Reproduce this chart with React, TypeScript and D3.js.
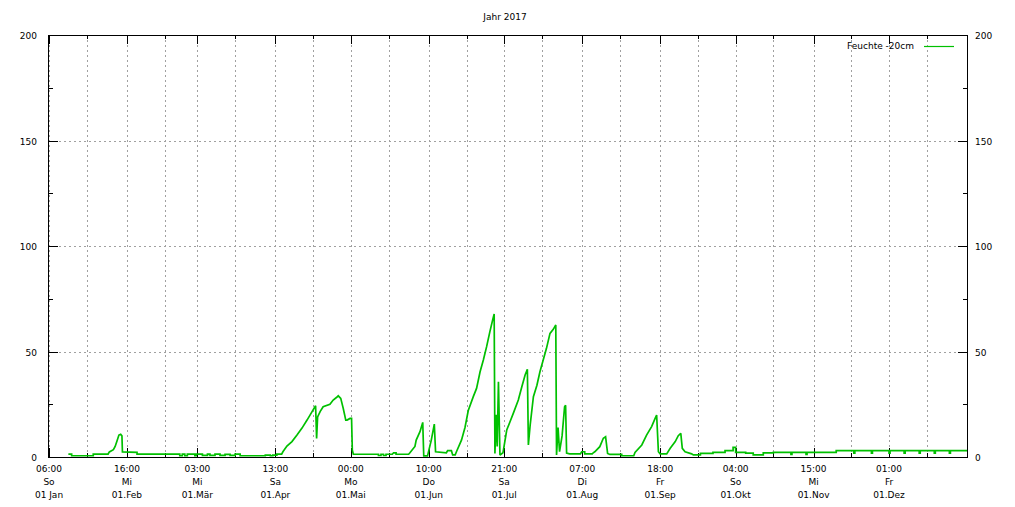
import React from "react";
import * as d3 from "d3";

const title = "Jahr 2017";
const seriesName = "Feuchte -20cm";
const yearStart = new Date(2017, 0, 1);
const yearEnd = new Date(2018, 0, 1);

// day of year (fractional) and soil moisture value
const dayOffsets = [
  7.7, 9, 9, 17.6, 17.6, 23.5, 24, 25.6, 26.3, 27, 27.8, 28.5, 29, 29.2, 35, 35,
  52, 52, 53, 53, 54, 54, 55, 55, 58, 58, 58.5, 58.5, 61, 61, 63, 63, 64, 64, 66, 66, 68, 68, 70, 70, 72, 72, 74, 74, 76, 76, 86, 86, 88, 88, 89, 89, 90.6, 90.6, 92.5,
  93, 94.6, 96.6, 98.6, 100.6, 102.6, 104.6, 106, 106.4, 106.8, 107.8, 109, 111.7, 113, 114.4, 115, 116, 117, 118, 118.5, 119.7, 120.3, 120.6, 121,
  131, 131, 132, 132, 133, 133, 134, 134, 136.5, 137, 138, 138, 143,
  143.5, 145.5, 146, 147.5, 148.6, 149, 150.5, 151, 152, 153.2, 153.7, 158, 158.5, 160, 160.5, 161.5, 162,
  164, 165.4, 166.7, 168.7, 170, 171.4, 172.7, 174, 175.3, 176.4, 177, 177.3, 177.8, 178.2, 178.7, 179.3, 180.5,
  182, 183.3, 184.6, 186.6, 188, 189.3, 190.2, 190.6, 191.3, 192.6, 194, 195.2, 196.5, 197.8, 199.2, 200.5, 201.5, 201.8,
  202.4, 203, 204, 205, 205.4, 205.8, 207, 211.3, 211.8, 213, 213, 216,
  216.4, 217, 219, 220.4, 221.3, 222.1, 223, 227.7, 227.7, 232.5,
  233, 235.7, 237.6, 239.6, 241, 241.6, 242.3, 243, 245.6,
  247, 249, 250.2, 251.2, 251.8, 252.9, 255.5, 256.2, 259, 259, 264, 264, 268.8, 268.8, 272, 272, 273, 273, 277, 277, 280, 280, 284, 284, 288, 288,
  295, 295, 295.4, 295.4, 301, 301, 301.4, 301.4, 313, 313, 320, 320, 320.4, 320.4, 327, 327, 327.4, 327.4,
  334, 334, 334.4, 334.4, 340, 340, 340.4, 340.4, 346, 346, 346.4, 346.4, 352, 352, 352.4, 352.4, 358, 358, 358.4, 358.4, 365
];
const moisture = [
  1.4, 1.4, 0.6, 0.6, 1.4, 1.4, 2.4, 3.5, 5, 7.5, 10.4, 10.8, 10, 2.4, 2.2, 1.4,
  1.4, 0.6, 0.6, 1.4, 1.4, 0.6, 0.6, 1.4, 1.4, 0.6, 0.6, 1.4, 1.4, 0.8, 0.8, 1.4, 1.4, 0.8, 0.8, 1.4, 1.4, 0.8, 0.8, 1.2, 1.2, 0.8, 0.8, 1.4, 1.4, 0.6, 0.6, 0.9, 0.9, 0.6, 0.6, 0.9, 0.9, 1.4, 1.4,
  2.5, 5.2, 7.3, 10.4, 13.7, 17.5, 21.5, 24.3, 8.8, 19, 21.5, 23.8, 25, 27, 28.3, 29, 27.8, 23, 17.5, 17.5, 18.3, 18.3, 3.3, 1.3,
  1.3, 0.7, 0.7, 1.3, 1.3, 0.7, 0.7, 1.3, 1.3, 2, 2, 1.3, 1.3,
  2, 5, 8, 12, 16.4, 0.5, 0.5, 3, 8, 15.6, 2.5, 2, 3, 3, 1, 1, 2.5,
  8, 14, 22, 28.6, 32.5, 40.4, 46, 52.3, 59.4, 65, 67.8, 1.7, 20, 5, 35.7, 0.9, 2,
  12.8, 16.7, 20.7, 27, 33.3, 38.9, 41.6, 5.7, 15, 28.6, 34, 40.4, 46, 51.5, 58.6, 60.5, 62.6, 1,
  14, 2.5, 10, 23.8, 24.5, 1.9, 1.5, 1.5, 2.5, 2.5, 1.5, 1.5,
  2, 2.5, 4.9, 8.9, 9.6, 1.7, 1.2, 1.2, 0.6, 0.6,
  2.2, 5.7, 10.4, 14.4, 18.3, 19.9, 2.5, 1.5, 1.5,
  4.1, 7.3, 10.1, 11.2, 4.1, 2.5, 1.5, 1, 1, 1.7, 1.7, 2.2, 2.2, 3, 3, 4.6, 4.6, 2.2, 2.2, 1.8, 1.8, 1, 1, 2, 2, 2.2,
  2.2, 1.2, 1.2, 2.2, 2.2, 1.2, 1.2, 2.2, 2.2, 3, 3, 1.8, 1.8, 3, 3, 1.8, 1.8, 3,
  3, 1.8, 1.8, 3, 3, 1.8, 1.8, 3, 3, 1.8, 1.8, 3, 3, 1.8, 1.8, 3, 3, 1.8, 1.8, 3, 3
];

const tickHours = ["06:00", "16:00", "03:00", "13:00", "00:00", "10:00", "21:00", "07:00", "18:00", "04:00", "15:00", "01:00"];
const tickWeekdays = ["So", "Mi", "Mi", "Sa", "Mo", "Do", "Sa", "Di", "Fr", "So", "Mi", "Fr"];
const tickDates = ["01 Jan", "01.Feb", "01.Mär", "01.Apr", "01.Mai", "01.Jun", "01.Jul", "01.Aug", "01.Sep", "01.Okt", "01.Nov", "01.Dez"];
const yTicks = [0, 50, 100, 150, 200];
const yMinorTicks = [25, 75, 125, 175];

const W = 1015;
const H = 507;
const left = 49;
const right = 967;
const top = 35;
const bottom = 457;
const font = "DejaVu Sans, sans-serif";
const lineColor = "#00c000";
const gridColor = "#a0a0a0";

export default function App() {
  const x = d3.scaleTime().domain([yearStart, yearEnd]).range([left, right]);
  const y = d3.scaleLinear().domain([0, 200]).range([bottom, top]);

  const data = dayOffsets.map((d, i) => ({
    date: new Date(yearStart.getTime() + d * 86400000),
    v: moisture[i],
  }));
  const line = d3
    .line<{ date: Date; v: number }>()
    .x((d) => x(d.date))
    .y((d) => y(d.v));

  const monthStarts = d3.range(12).map((m) => new Date(2017, m, 1));
  const midMonths = d3.range(12).map((m) => new Date(2017, m, 16));

  return (
    <svg
      width={W}
      height={H}
      style={{ position: "absolute", left: 0, top: 0, background: "#fff" }}
      fontFamily={font}
      fontSize={9}
    >
      <rect x={0} y={0} width={W} height={H} fill="#fff" />
      {/* grid */}
      {[...monthStarts, ...midMonths].map((d, i) => (
        <line
          key={"vg" + i}
          x1={Math.round(x(d)) + 0.5}
          x2={Math.round(x(d)) + 0.5}
          y1={top}
          y2={bottom}
          stroke={gridColor}
          strokeDasharray="2,3"
        />
      ))}
      {yTicks.slice(1, -1).map((t) => (
        <line
          key={"hg" + t}
          x1={left}
          x2={right}
          y1={Math.round(y(t)) + 0.5}
          y2={Math.round(y(t)) + 0.5}
          stroke={gridColor}
          strokeDasharray="2,3"
        />
      ))}
      {/* x ticks */}
      {monthStarts.map((d, i) => {
        const px = Math.round(x(d)) + 0.5;
        return (
          <g key={"xt" + i}>
            <line x1={px} x2={px} y1={bottom} y2={bottom - 9} stroke="#000" />
            <line x1={px} x2={px} y1={top} y2={top + 9} stroke="#000" />
          </g>
        );
      })}
      {midMonths.map((d, i) => {
        const px = Math.round(x(d)) + 0.5;
        return (
          <g key={"xm" + i}>
            <line x1={px} x2={px} y1={bottom} y2={bottom - 4} stroke="#000" />
            <line x1={px} x2={px} y1={top} y2={top + 4} stroke="#000" />
          </g>
        );
      })}
      {/* y ticks */}
      {yTicks.map((t) => {
        const py = Math.round(y(t)) + 0.5;
        return (
          <g key={"yt" + t}>
            <line x1={left} x2={left + 9} y1={py} y2={py} stroke="#000" />
            <line x1={right} x2={right - 9} y1={py} y2={py} stroke="#000" />
            <text x={37} y={py + 3} textAnchor="end" fill="#000">
              {t}
            </text>
            <text x={975} y={py + 3} textAnchor="start" fill="#000">
              {t}
            </text>
          </g>
        );
      })}
      {yMinorTicks.map((t) => {
        const py = Math.round(y(t)) + 0.5;
        return (
          <g key={"ym" + t}>
            <line x1={left} x2={left + 4} y1={py} y2={py} stroke="#000" />
            <line x1={right} x2={right - 4} y1={py} y2={py} stroke="#000" />
          </g>
        );
      })}
      {/* x labels */}
      {monthStarts.map((d, i) => {
        const px = x(d);
        return (
          <g key={"xl" + i} textAnchor="middle" fill="#000">
            <text x={px} y={472}>{tickHours[i]}</text>
            <text x={px} y={485}>{tickWeekdays[i]}</text>
            <text x={px} y={498}>{tickDates[i]}</text>
          </g>
        );
      })}
      {/* data line */}
      <path
        d={line(data) || ""}
        fill="none"
        stroke={lineColor}
        strokeWidth={1.7}
        strokeLinejoin="miter"
        strokeMiterlimit={2}
      />
      {/* border */}
      <rect
        x={left - 0.5}
        y={top + 0.5}
        width={right - left + 1}
        height={bottom - top}
        fill="none"
        stroke="#000"
      />
      {/* title */}
      <text x={505} y={20} textAnchor="middle" fill="#000">
        {title}
      </text>
      {/* legend */}
      <text x={914} y={49} textAnchor="end" fill="#000">
        {seriesName}
      </text>
      <line x1={924} x2={954} y1={46.5} y2={46.5} stroke={lineColor} strokeWidth={1.2} />
    </svg>
  );
}
